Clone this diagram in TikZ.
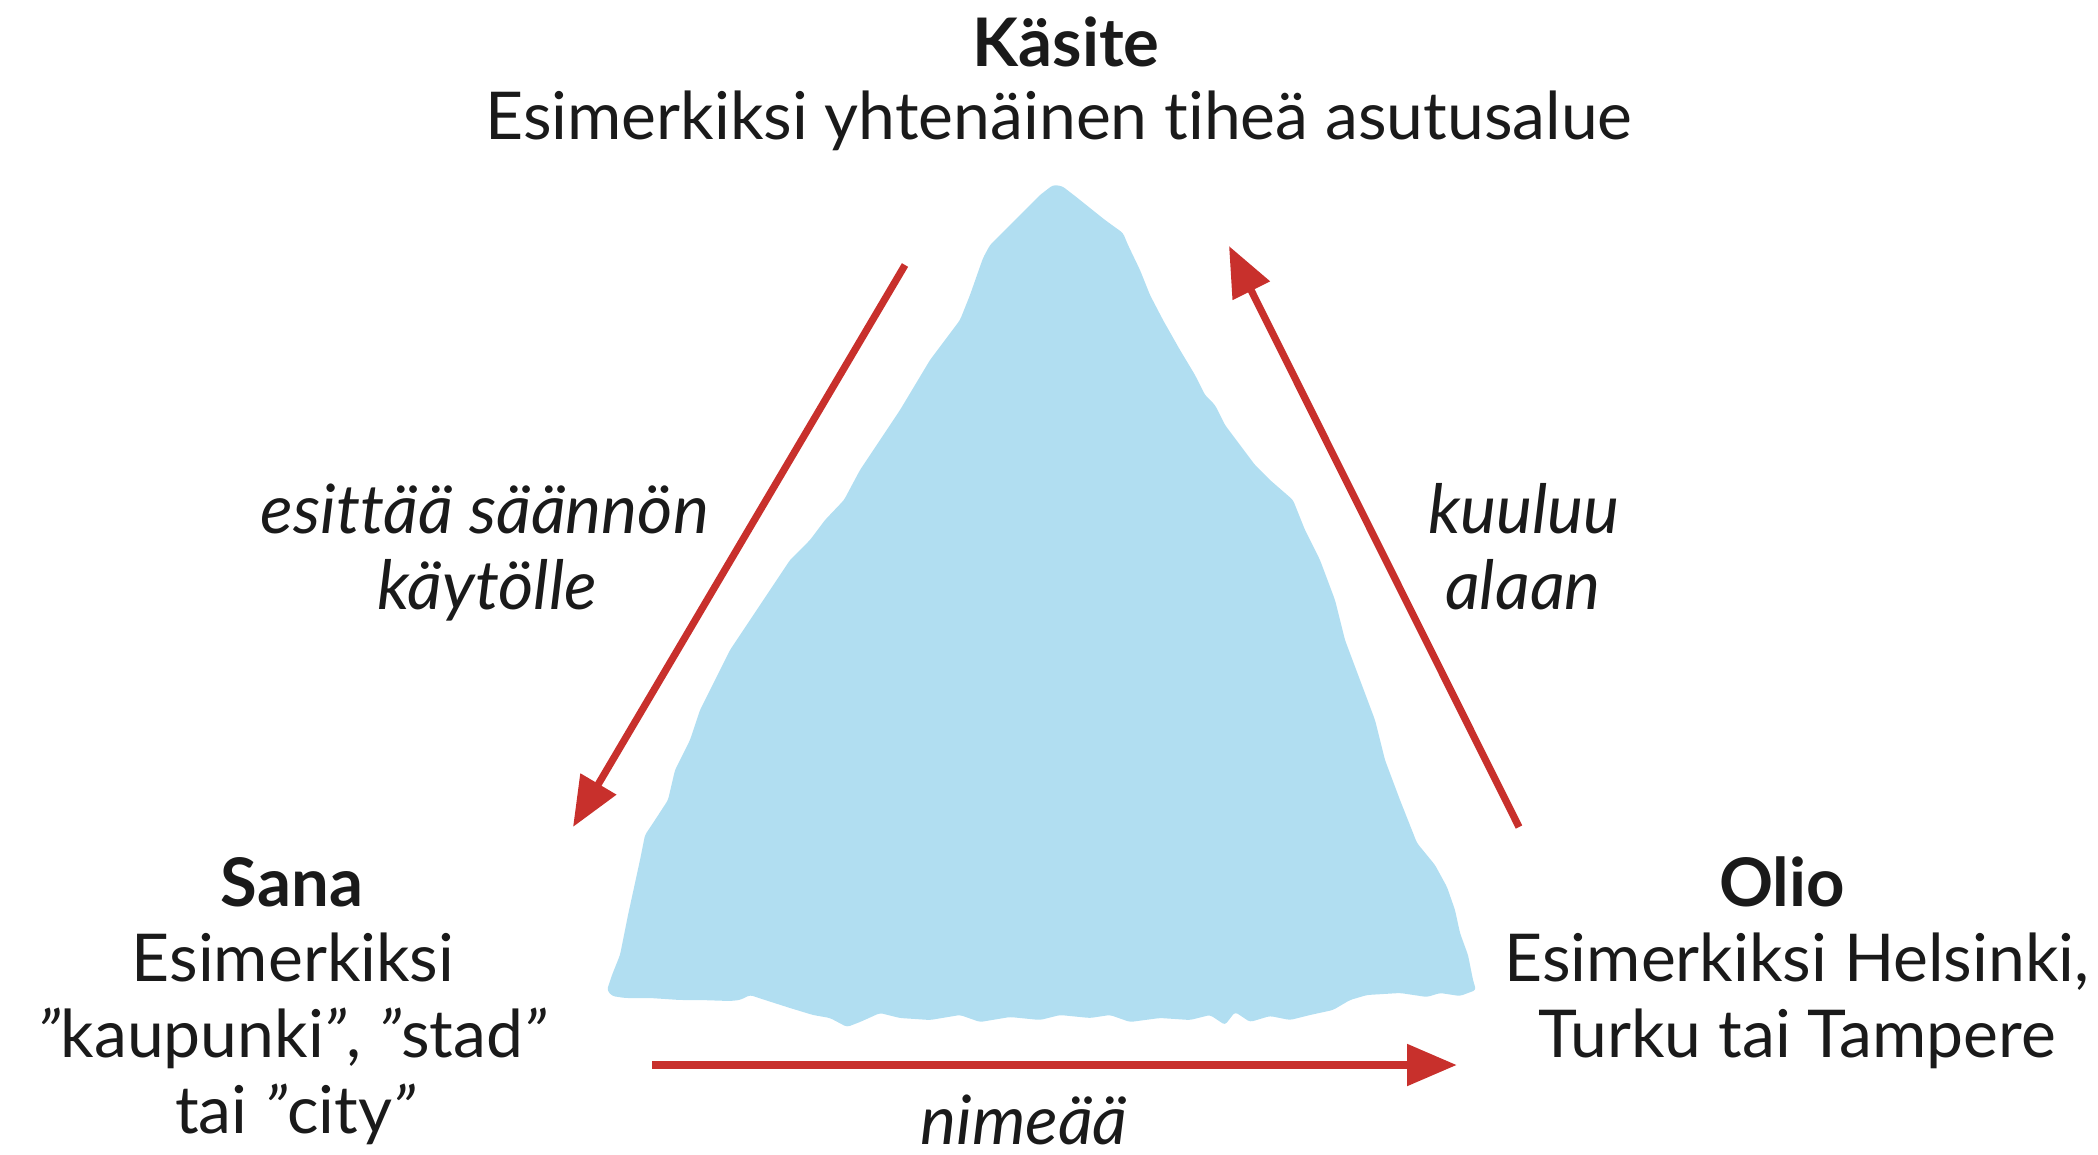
\documentclass[tikz,border=0pt]{standalone}
\usepackage{fontspec}
\setmainfont{Lato}[Ligatures={NoCommon}]
\usetikzlibrary{arrows.meta}
\definecolor{arrred}{HTML}{C8302C}
\definecolor{icefill}{HTML}{B1DEF1}
\definecolor{txt}{HTML}{1A1A1A}
\tikzset{
  title/.style={font=\fontsize{33.5}{40}\selectfont\bfseries, text=txt, anchor=base, inner sep=0pt},
  body/.style={font=\fontsize{33}{40}\selectfont, text=txt, anchor=base, inner sep=0pt},
  rel/.style={font=\fontsize{34}{40}\selectfont\itshape, text=txt, anchor=base, inner sep=0pt},
  relarrow/.style={draw=arrred, line width=3.6pt, -{Triangle[length=25pt,width=20pt]}}
}
\newcommand{\q}{{\itshape\symbol{34}}}
\begin{document}
\begin{tikzpicture}[x=0.5pt,y=-0.5pt]
\useasboundingbox (0,0) rectangle (2098,1155);
% ice triangle
\fill[icefill, rounded corners=1.5pt]
 (1053,185) -- (1062,186) -- (1075,196) -- (1090,208) -- (1105,220) -- (1123,233) -- (1128,245)
 -- (1140,270) -- (1150,295) -- (1163,320) -- (1180,350) -- (1195,375) -- (1205,395) -- (1215,405)
 -- (1225,425) -- (1240,445) -- (1255,465) -- (1270,480) -- (1293,500) -- (1305,530) -- (1320,560)
 -- (1335,600) -- (1345,640) -- (1360,680) -- (1375,720) -- (1385,760) -- (1400,800) -- (1417,843)
 -- (1435,865) -- (1447,887) -- (1455,910) -- (1460,933) -- (1468,955) -- (1473,980) -- (1476,990)
 -- (1460,996) -- (1440,993) -- (1427,997) -- (1400,993) -- (1367,995) -- (1350,1000) -- (1333,1010)
 -- (1310,1015) -- (1290,1020) -- (1270,1016) -- (1250,1022) -- (1235,1012) -- (1225,1025) -- (1210,1015)
 -- (1190,1020) -- (1160,1018) -- (1130,1022) -- (1110,1015) -- (1090,1018) -- (1060,1015) -- (1040,1020)
 -- (1010,1017) -- (980,1022) -- (960,1015) -- (930,1020) -- (900,1018) -- (880,1013) -- (860,1022)
 -- (847,1027) -- (830,1018) -- (813,1015) -- (790,1008) -- (765,1000) -- (750,995) -- (740,1000)
 -- (730,1001) -- (700,1000) -- (680,1000) -- (650,998) -- (625,998) -- (612,996) -- (607,990)
 -- (612,975) -- (620,955) -- (623,940) -- (628,915) -- (635,883) -- (640,860) -- (645,835)
 -- (655,820) -- (668,800) -- (675,770) -- (690,740) -- (700,710) -- (715,680) -- (730,650)
 -- (750,620) -- (770,590) -- (790,560) -- (810,540) -- (825,520) -- (844,500) -- (860,470)
 -- (880,440) -- (900,410) -- (915,385) -- (930,360) -- (945,340) -- (960,320) -- (970,295)
 -- (983,258) -- (990,245) -- (1005,230) -- (1023,212) -- (1030,205) -- (1040,195) -- cycle;

% Käsite
\node[title] (kasite) at (1066,67) {Käsite};
\node[body] (kasite2) at (1059,140) {Esimerkiksi yhtenäinen tiheä asutusalue};
% Sana
\node[title] (sana) at (292,906) {Sana};
\node[body] (sana2) at (293,981) {Esimerkiksi};
\node[body] (sana3) at (292,1057) {\q kaupunki\q, \q stad\q};
\node[body] (sana4) at (295,1133) {tai \q city\q};
% Olio
\node[title] (olio) at (1782,906) {Olio};
\node[body] (olio2) at (1797,981) {Esimerkiksi Helsinki,};
\node[body] (olio3) at (1797,1057) {Turku tai Tampere};
% relation labels
\node[rel] (esit1) at (485,533) {esittää säännön};
\node[rel] (esit2) at (487,609) {käytölle};
\node[rel] (kuul1) at (1524,533) {kuuluu};
\node[rel] (kuul2) at (1523,609) {alaan};
\node[rel] (nime) at (1024,1144) {nimeää};

% arrow ends
\coordinate (a1s) at (905,265);
\coordinate (a1e) at (573,827);
\coordinate (a2s) at (1519,827);
\coordinate (a2e) at (1229,246);
\coordinate (a3s) at (652,1065);
\coordinate (a3e) at (1457,1065);
\draw[relarrow] (a1s) -- (a1e);
\draw[relarrow] (a2s) -- (a2e);
\draw[relarrow, line width=4.2pt] (a3s) -- (a3e);
\end{tikzpicture}
\end{document}
